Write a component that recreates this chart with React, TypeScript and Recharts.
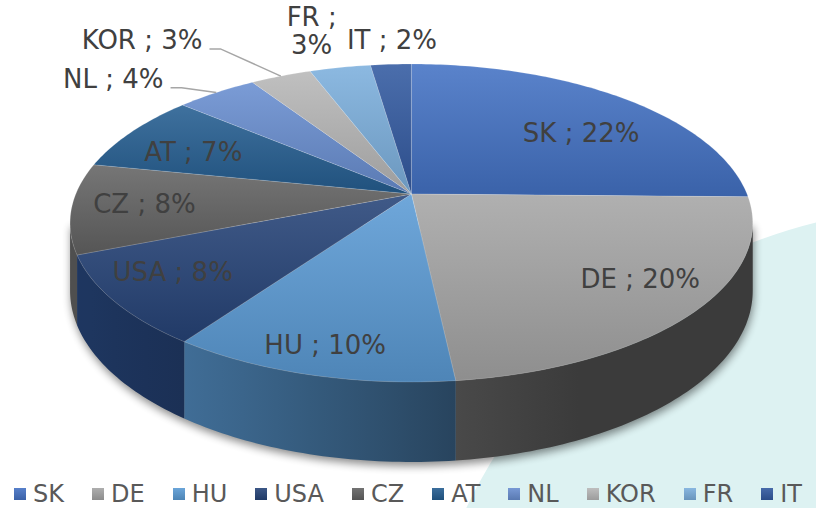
import React from "react";
import { PieChart, Pie, Cell, Legend } from "recharts";

const countries = ["SK", "DE", "HU", "USA", "CZ", "AT", "NL", "KOR", "FR", "IT"];
const shares = [22, 20, 10, 8, 8, 7, 4, 3, 3, 2];
const colors = ["#4472C4", "#A5A5A5", "#5B9BD5", "#264478", "#636363", "#255E91", "#698ED0", "#B7B7B7", "#7CAFDD", "#335AA1"];

const data = countries.map((name, i) => ({ name, value: shares[i] }));

// label nudges (px) from the projected anchor, Excel moved a few of them around
const labelNudge: Record<string, { dx: number; dy: number; wrap?: boolean; leader?: boolean }> = {
  SK: { dx: -4, dy: 17 },
  DE: { dx: 9, dy: -7 },
  HU: { dx: -8, dy: 12 },
  USA: { dx: -7, dy: -6 },
  CZ: { dx: 4, dy: -2 },
  AT: { dx: 9, dy: 8 },
  NL: { dx: -3, dy: 12, leader: true },
  KOR: { dx: -46, dy: -7, leader: true },
  FR: { dx: -11, dy: -6, wrap: true },
  IT: { dx: 6, dy: 7 },
};

// tilted disc with a bit of perspective
const CX = 411.4;
const CY = 194;
const RX = 335.6;
const RY = 153.7;
const PERSP = 0.1824;
const DEPTH = 65.4;
const RAD = Math.PI / 180;
const SIDE_FROM = -180 + Math.asin(PERSP) / RAD;
const SIDE_TO = -Math.asin(PERSP) / RAD;
const FONT = "'DejaVu Sans', Verdana, sans-serif";

function project(deg: number, r = 1) {
  const c = Math.cos(deg * RAD) * r;
  const s = Math.sin(deg * RAD) * r;
  const w = 1 + PERSP * s;
  return { x: CX + (RX * c) / w, y: CY - (RY * s) / w, w };
}

function arc(a: number, b: number, lift = 0) {
  const n = Math.max(2, Math.ceil(Math.abs(b - a)));
  const pts: number[][] = [];
  for (let i = 0; i <= n; i++) {
    const p = project(a + ((b - a) * i) / n);
    pts.push([p.x, p.y + lift / p.w]);
  }
  return pts;
}

const toPath = (pts: number[][]) => "M" + pts.map((p) => `${p[0].toFixed(2)},${p[1].toFixed(2)}`).join("L") + "Z";

function rgb(hex: string) {
  const n = parseInt(hex.slice(1), 16);
  return [(n >> 16) & 255, (n >> 8) & 255, n & 255];
}
const shade = (hex: string, f: number) => `rgb(${rgb(hex).map((v) => Math.round(Math.min(255, v * f))).join(",")})`;
const tint = (hex: string, t: number) => `rgb(${rgb(hex).map((v) => Math.round(v + (255 - v) * t)).join(",")})`;

// side lighting, light coming from the left
const sideLight = (deg: number) => {
  const d = (-Math.cos(deg * RAD) - 0.3 * Math.sin(deg * RAD)) / 1.044;
  return 0.36 + 0.44 * Math.max(0, d);
};

const nameOf = (props: any) => props.name ?? props.payload?.name;

const TopShape = (props: any) => {
  const { startAngle, endAngle, fill } = props;
  const i = countries.indexOf(nameOf(props));
  const pts = [[CX, CY], ...arc(startAngle, endAngle)];
  return (
    <g>
      <defs>
        <linearGradient id={`top-${i}`} x1="0" y1="0" x2="0" y2="1">
          <stop offset="0%" stopColor={tint(fill, 0.12)} />
          <stop offset="100%" stopColor={shade(fill, 0.86)} />
        </linearGradient>
      </defs>
      <path d={toPath(pts)} fill={`url(#top-${i})`} stroke="rgba(255,255,255,0.25)" strokeWidth={0.6} />
    </g>
  );
};

const SideShape = (props: any) => {
  const { startAngle, endAngle, fill } = props;
  const i = countries.indexOf(nameOf(props));
  const a = Math.max(Math.min(startAngle, endAngle), SIDE_FROM);
  const b = Math.min(Math.max(startAngle, endAngle), SIDE_TO);
  if (b <= a) return <g />;
  const top = arc(a, b);
  const bottom = arc(b, a, DEPTH);
  const xa = project(a).x;
  const xb = project(b).x;
  const stops = [0, 0.25, 0.5, 0.75, 1].map((t) => {
    const d = a + (b - a) * t;
    return { off: (project(d).x - xa) / (xb - xa || 1), color: shade(fill, sideLight(d)) };
  });
  return (
    <g>
      <defs>
        <linearGradient id={`side-${i}`} gradientUnits="userSpaceOnUse" x1={xa} y1="0" x2={xb} y2="0">
          {stops.map((s, k) => (
            <stop key={k} offset={s.off} stopColor={s.color} />
          ))}
        </linearGradient>
      </defs>
      <path d={toPath([...top, ...bottom])} fill={`url(#side-${i})`} />
    </g>
  );
};

const renderLabel = (props: any) => {
  const name = nameOf(props);
  const value = props.value;
  const mid = props.midAngle;
  const nudge = labelNudge[name] || { dx: 0, dy: 0 };
  const outside = value <= 4;
  const anchor = project(mid, outside ? 1.3 : 0.8);
  const x = anchor.x + nudge.dx;
  const y = anchor.y + nudge.dy;
  const common = { fill: "#404040", fontSize: 26, fontFamily: FONT };
  if (nudge.wrap) {
    return (
      <text key={name} x={x} y={y} textAnchor="middle" {...common}>
        <tspan x={x} y={y - 14 + 9.5}>{`${name} ;`}</tspan>
        <tspan x={x} y={y + 14 + 9.5}>{`${value}%`}</tspan>
      </text>
    );
  }
  if (nudge.leader) {
    const edge = project(mid, 1);
    const ly = y + 9;
    return (
      <g key={name}>
        <polyline
          points={`${x + 7},${ly} ${x + 18},${ly} ${edge.x},${edge.y}`}
          fill="none"
          stroke="#a6a6a6"
          strokeWidth={1.5}
        />
        <text x={x} y={y + 9.5} textAnchor="end" {...common}>{`${name} ; ${value}%`}</text>
      </g>
    );
  }
  return (
    <text key={name} x={x} y={y + 9.5} textAnchor="middle" {...common}>{`${name} ; ${value}%`}</text>
  );
};

const renderLegend = (props: any) => {
  const seen = new Set<string>();
  const items = (props.payload || [])
    .filter((e: any) => e.type !== "none" && countries.includes(e.value))
    .filter((e: any) => (seen.has(e.value) ? false : (seen.add(e.value), true)))
    .sort((a: any, b: any) => countries.indexOf(a.value) - countries.indexOf(b.value));
  return (
    <div style={{ display: "flex", whiteSpace: "nowrap", fontFamily: FONT, fontSize: 24, lineHeight: "28px", color: "#595959" }}>
      {items.map((entry: any, k: number) => {
        const c = colors[countries.indexOf(entry.value)];
        return (
          <span
            key={entry.value}
            style={{ display: "inline-flex", alignItems: "center", marginRight: k === items.length - 1 ? 0 : 28 }}
          >
            <span
              style={{
                width: 12,
                height: 12,
                marginRight: 7,
                background: `linear-gradient(${tint(c, 0.1)}, ${shade(c, 0.85)})`,
              }}
            />
            {entry.value}
          </span>
        );
      })}
    </div>
  );
};

function shadowPath() {
  const top = [[project(SIDE_FROM).x, project(SIDE_FROM).y], [project(SIDE_TO).x, project(SIDE_TO).y]];
  const bottom = arc(SIDE_TO, SIDE_FROM, DEPTH);
  return toPath([...top, ...bottom]);
}

export default function App() {
  return (
    <div style={{ position: "absolute", left: 0, top: 0, width: 816, height: 508, overflow: "hidden", background: "#fff" }}>
      <div
        style={{
          position: "absolute",
          left: 943 - 528,
          top: 735 - 528,
          width: 1056,
          height: 1056,
          borderRadius: "50%",
          background: "#ddf2f2",
        }}
      />
      <svg width={816} height={508} style={{ position: "absolute", left: 0, top: 0 }}>
        <defs>
          <filter id="pieShadow" x="-10%" y="-10%" width="120%" height="130%">
            <feGaussianBlur stdDeviation="4" />
          </filter>
        </defs>
        <path d={shadowPath()} transform="translate(1,4)" fill="#000" opacity={0.45} filter="url(#pieShadow)" />
      </svg>
      <div style={{ position: "absolute", left: 0, top: 0 }}>
        <PieChart width={816} height={508} margin={{ top: 0, right: 0, bottom: 0, left: 0 }}>
          <Pie
            data={data}
            dataKey="value"
            nameKey="name"
            cx={CX}
            cy={CY}
            outerRadius={150}
            startAngle={90}
            endAngle={-270}
            stroke="none"
            legendType="none"
            shape={SideShape}
            activeShape={SideShape}
            inactiveShape={SideShape}
            isAnimationActive={false}
          >
            {data.map((d, i) => (
              <Cell key={d.name} fill={colors[i]} />
            ))}
          </Pie>
          <Pie
            data={data}
            dataKey="value"
            nameKey="name"
            cx={CX}
            cy={CY}
            outerRadius={150}
            startAngle={90}
            endAngle={-270}
            stroke="none"
            shape={TopShape}
            activeShape={TopShape}
            inactiveShape={TopShape}
            label={renderLabel}
            labelLine={false}
            isAnimationActive={false}
          >
            {data.map((d, i) => (
              <Cell key={d.name} fill={colors[i]} />
            ))}
          </Pie>
          <Legend
            content={renderLegend}
            wrapperStyle={{ position: "absolute", left: 14, top: 480, width: 802, height: 28 }}
          />
        </PieChart>
      </div>
    </div>
  );
}
